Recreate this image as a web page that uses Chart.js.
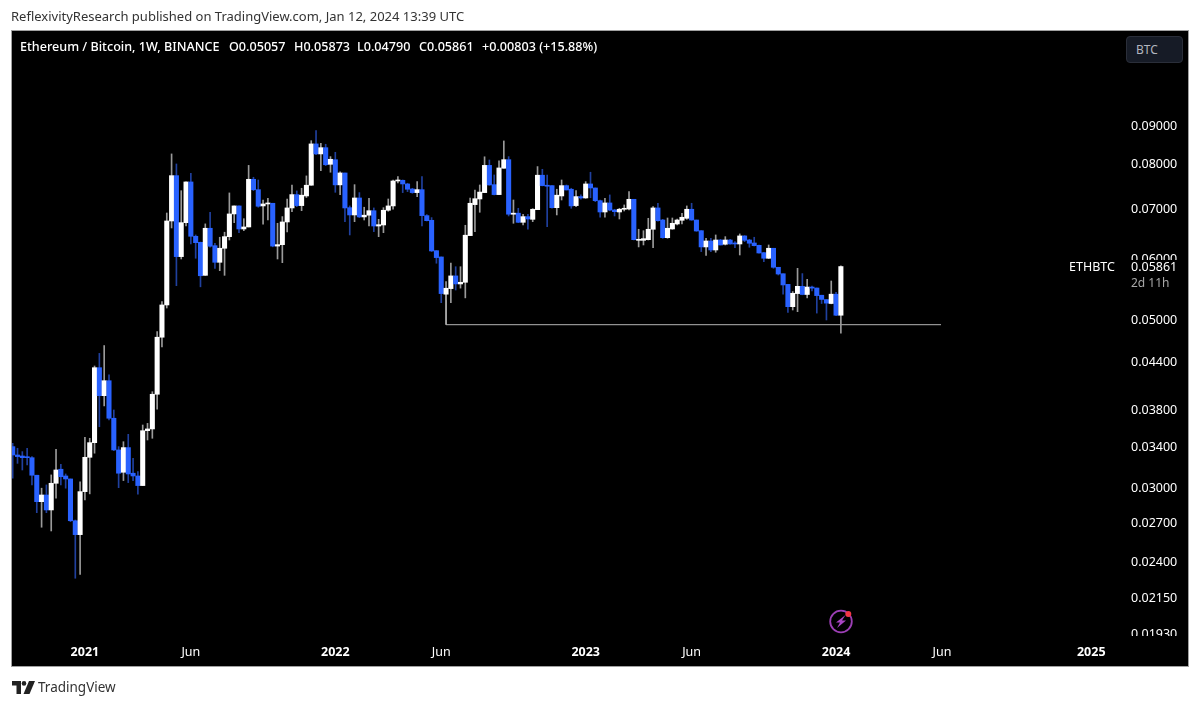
<!DOCTYPE html>
<html>
<head>
<meta charset="utf-8">
<script src="https://cdn.jsdelivr.net/npm/chart.js@4"></script>
<style>
    html, body { margin: 0; padding: 0; background: #fff; }
    body { width: 1200px; height: 706px; position: relative; overflow: hidden; font-family: "Noto Sans", sans-serif; }
    canvas { position: absolute; left: 0; top: 0; }
    .txt { position: absolute; white-space: pre; line-height: 16px; }
    #published { left: 11px; top: 8px; font-size: 13px; color: #333; }
    .lg { top: 39px; font-size: 12.6px; font-weight: 500; color: #fff; }
    #btc { left: 1126px; top: 36px; width: 57px; height: 27px; box-sizing: border-box; padding: 5px 0 0 9px;
        background: #161b26; border: 1px solid #2a2e39; border-radius: 4px; font-size: 12px; color: #b2b5be; }
    /* hides the tick labels sitting under the last price label */
    #mask { position: absolute; left: 1060px; top: 260px; width: 127px; height: 32px; background: #000; }
    #sym { left: 1069px; top: 259px; font-size: 12.5px; color: #fff; }
    #last { left: 1131px; top: 259px; font-size: 12.5px; color: #fff; }
    #left { left: 1131px; top: 275px; font-size: 12px; color: #a8a8a8; }
    #tick-cut { position: absolute; left: 1125px; top: 636px; width: 62px; height: 8px; background: #000; }
    #brand { left: 38px; top: 679px; font-size: 13.5px; line-height: 16px; color: #333; }
    svg { position: absolute; }
</style>
</head>
<body>
<canvas id="chart" width="1200" height="706"></canvas>
<div class="txt" id="published">ReflexivityResearch published on TradingView.com, Jan 12, 2024 13:39 UTC</div>
<div class="txt lg" style="left:20px">Ethereum / Bitcoin, 1W, BINANCE</div>
<div class="txt lg" style="left:229px">O0.05057</div>
<div class="txt lg" style="left:294px">H0.05873</div>
<div class="txt lg" style="left:357px">L0.04790</div>
<div class="txt lg" style="left:419px">C0.05861</div>
<div class="txt lg" style="left:482px">+0.00803 (+15.88%)</div>
<div class="txt" id="btc">BTC</div>
<div id="mask"></div>
<div id="tick-cut"></div>
<div class="txt" id="sym">ETHBTC</div>
<div class="txt" id="last">0.05861</div>
<div class="txt" id="left">2d 11h</div>
<svg style="left:828px;top:609px" width="26" height="26" viewBox="0 0 26 26">
    <circle cx="13" cy="12.5" r="10.8" fill="none" stroke="#9c3fb5" stroke-width="1.8"/>
    <path d="M17.5 6 L8 13.5 L12 13.5 L9 19 L18 11.5 L14 11.5 Z" fill="#a945c4"/>
    <circle cx="20.3" cy="5" r="3" fill="#f23645"/>
</svg>
<svg style="left:12px;top:681px" width="23" height="13" viewBox="0 0 23 13">
    <path d="M0 0 H9 V13 H4.5 V4.5 H0 Z" fill="#222"/>
    <circle cx="12" cy="2.4" r="2.3" fill="#222"/>
    <path d="M17 0 H23 L17.5 13 H11.5 Z" fill="#222"/>
</svg>
<div class="txt" id="brand">TradingView</div>

<script>
// Weekly ETHBTC candles (first one is late Sep 2020)
const opens = [
    0.03396, 0.03311, 0.03301, 0.03291, 0.03284, 0.03114, 0.02874, 0.02933, 0.02803, 0.03039,
    0.03171, 0.03107, 0.03079, 0.02713, 0.02601, 0.02963, 0.03288, 0.03437, 0.04314, 0.03963,
    0.04147, 0.03701, 0.03362, 0.03142, 0.03386, 0.03133, 0.03107, 0.03018, 0.03564, 0.03583,
    0.03980, 0.04731, 0.05217, 0.06729, 0.07720, 0.06040, 0.06695, 0.07574, 0.06424, 0.06307,
    0.05707, 0.06582, 0.06244, 0.05937, 0.06195, 0.06417, 0.06874, 0.07043, 0.06568, 0.06608,
    0.07635, 0.07399, 0.07043, 0.07085, 0.07100, 0.06236, 0.06263, 0.06709, 0.07000, 0.07289,
    0.07050, 0.07259, 0.07499, 0.08499, 0.08245, 0.08403, 0.07990, 0.08102, 0.07507, 0.07783,
    0.07006, 0.06853, 0.07215, 0.06812, 0.06848, 0.06942, 0.06627, 0.06648, 0.06951, 0.07043,
    0.07596, 0.07612, 0.07528, 0.07414, 0.07333, 0.07399, 0.06839, 0.06743, 0.06150, 0.06034,
    0.05390, 0.05482, 0.05697, 0.05560, 0.05588, 0.06437, 0.07071, 0.07193, 0.07333, 0.07964,
    0.07512, 0.07289, 0.07895, 0.08103, 0.06868, 0.06890, 0.06702, 0.06818, 0.06763, 0.06964,
    0.07730, 0.07499, 0.07490, 0.07006, 0.07259, 0.07490, 0.07408, 0.07050, 0.07245, 0.07215,
    0.07528, 0.07437, 0.07156, 0.06915, 0.07107, 0.06957, 0.06915, 0.06972, 0.06978, 0.07186,
    0.06346, 0.06346, 0.06358, 0.06562, 0.07000, 0.06749, 0.06397, 0.06568, 0.06668, 0.06743,
    0.06784, 0.06972, 0.06749, 0.06534, 0.06220, 0.06333, 0.06163, 0.06352, 0.06271, 0.06352,
    0.06290, 0.06276, 0.06431, 0.06352, 0.06295, 0.06250, 0.06113, 0.06010, 0.06195, 0.05848,
    0.05735, 0.05553, 0.05190, 0.05400, 0.05520, 0.05385, 0.05508, 0.05492, 0.05373, 0.05303,
    0.05240, 0.05390, 0.05057
];
const highs = [
    0.03431, 0.03379, 0.03345, 0.03379, 0.03294, 0.03114, 0.02994, 0.03024, 0.03117, 0.03369,
    0.03219, 0.03126, 0.03079, 0.02719, 0.03052, 0.03494, 0.03483, 0.04336, 0.04505, 0.04613,
    0.04220, 0.03795, 0.03396, 0.03447, 0.03525, 0.03278, 0.03148, 0.03626, 0.03644, 0.04011,
    0.04814, 0.05270, 0.06894, 0.08245, 0.07998, 0.07376, 0.07574, 0.07776, 0.06450, 0.06313,
    0.06670, 0.06909, 0.06290, 0.06405, 0.06504, 0.07326, 0.07043, 0.07043, 0.06776, 0.07964,
    0.07682, 0.07619, 0.07171, 0.07208, 0.07100, 0.06682, 0.06819, 0.07193, 0.07505, 0.07370,
    0.07430, 0.07714, 0.08583, 0.08848, 0.08516, 0.08490, 0.08178, 0.08286, 0.07807, 0.07783,
    0.07043, 0.07512, 0.07333, 0.07015, 0.07208, 0.07000, 0.06763, 0.07006, 0.07193, 0.07619,
    0.07698, 0.07619, 0.07544, 0.07430, 0.07581, 0.07698, 0.06860, 0.06798, 0.06150, 0.06034,
    0.05600, 0.05925, 0.05858, 0.05858, 0.06642, 0.07215, 0.07392, 0.07505, 0.08174, 0.08095,
    0.07736, 0.08077, 0.08576, 0.08178, 0.07171, 0.06993, 0.06868, 0.06868, 0.06985, 0.07935,
    0.07870, 0.07736, 0.07490, 0.07408, 0.07619, 0.07505, 0.07430, 0.07376, 0.07282, 0.07581,
    0.07800, 0.07437, 0.07171, 0.07208, 0.07282, 0.06972, 0.06993, 0.07064, 0.07355, 0.07186,
    0.06562, 0.06534, 0.06784, 0.07028, 0.07100, 0.06763, 0.06790, 0.06790, 0.06770, 0.06889,
    0.07043, 0.07100, 0.06749, 0.06534, 0.06385, 0.06385, 0.06450, 0.06365, 0.06417, 0.06365,
    0.06320, 0.06470, 0.06437, 0.06365, 0.06405, 0.06257, 0.06120, 0.06257, 0.06195, 0.05848,
    0.05735, 0.05553, 0.05433, 0.05830, 0.05737, 0.05638, 0.05525, 0.05492, 0.05373, 0.05303,
    0.05610, 0.05420, 0.05873
];
const lows = [
    0.03086, 0.03228, 0.03164, 0.03212, 0.03024, 0.02780, 0.02660, 0.02780, 0.02630, 0.02904,
    0.03024, 0.02994, 0.02705, 0.02279, 0.02306, 0.02889, 0.02943, 0.03329, 0.03607, 0.03842,
    0.03682, 0.03355, 0.02999, 0.03064, 0.03045, 0.03064, 0.02940, 0.03018, 0.03465, 0.03483,
    0.03803, 0.04594, 0.05169, 0.06588, 0.05531, 0.05997, 0.06627, 0.06276, 0.06010, 0.05512,
    0.05707, 0.06214, 0.05830, 0.05788, 0.05707, 0.06352, 0.06695, 0.06495, 0.06534, 0.06608,
    0.07376, 0.07015, 0.06662, 0.06749, 0.06222, 0.05997, 0.05930, 0.06509, 0.06921, 0.07028,
    0.06942, 0.07225, 0.07499, 0.08229, 0.07837, 0.07957, 0.07800, 0.07340, 0.07286, 0.06715,
    0.06450, 0.06715, 0.06798, 0.06749, 0.06627, 0.06515, 0.06417, 0.06495, 0.06930, 0.06972,
    0.07551, 0.07333, 0.07355, 0.07319, 0.07245, 0.06627, 0.06729, 0.06133, 0.05920, 0.05253,
    0.05296, 0.05253, 0.05459, 0.05490, 0.05330, 0.06437, 0.06515, 0.06909, 0.07333, 0.07499,
    0.07282, 0.07289, 0.07895, 0.06832, 0.06682, 0.06695, 0.06648, 0.06562, 0.06715, 0.06964,
    0.07483, 0.06615, 0.06993, 0.06853, 0.07171, 0.07392, 0.06993, 0.07028, 0.07186, 0.07208,
    0.07222, 0.07134, 0.06805, 0.06805, 0.06940, 0.06832, 0.06770, 0.06936, 0.06957, 0.06352,
    0.06220, 0.06257, 0.06352, 0.06207, 0.06723, 0.06385, 0.06385, 0.06562, 0.06648, 0.06668,
    0.06763, 0.06743, 0.06522, 0.06133, 0.06060, 0.06133, 0.06120, 0.06257, 0.06257, 0.06271,
    0.06208, 0.06070, 0.06320, 0.06214, 0.06238, 0.06102, 0.05949, 0.06004, 0.05830, 0.05713,
    0.05390, 0.05100, 0.05138, 0.05112, 0.05380, 0.05330, 0.05444, 0.05090, 0.05240, 0.04985,
    0.05235, 0.05050, 0.04790
];
const closes = [
    0.03311, 0.03295, 0.03284, 0.03284, 0.03114, 0.02874, 0.02933, 0.02803, 0.03039, 0.03164,
    0.03100, 0.03079, 0.02713, 0.02601, 0.02963, 0.03288, 0.03437, 0.04314, 0.03963, 0.04147,
    0.03701, 0.03362, 0.03133, 0.03386, 0.03126, 0.03107, 0.03018, 0.03564, 0.03583, 0.03980,
    0.04731, 0.05217, 0.06729, 0.07720, 0.06040, 0.06695, 0.07574, 0.06424, 0.06301, 0.05700,
    0.06582, 0.06233, 0.05937, 0.06195, 0.06417, 0.06874, 0.07043, 0.06568, 0.06608, 0.07635,
    0.07399, 0.07036, 0.07085, 0.07100, 0.06236, 0.06263, 0.06709, 0.07000, 0.07289, 0.07050,
    0.07276, 0.07499, 0.08499, 0.08245, 0.08403, 0.07980, 0.08112, 0.07507, 0.07783, 0.07000,
    0.06853, 0.07215, 0.06812, 0.06848, 0.06942, 0.06627, 0.06654, 0.06951, 0.07043, 0.07596,
    0.07612, 0.07528, 0.07408, 0.07333, 0.07399, 0.06839, 0.06735, 0.06145, 0.06022, 0.05400,
    0.05488, 0.05697, 0.05560, 0.05588, 0.06445, 0.07100, 0.07199, 0.07345, 0.07964, 0.07505,
    0.07289, 0.07902, 0.08103, 0.06868, 0.06890, 0.06702, 0.06818, 0.06770, 0.06972, 0.07730,
    0.07490, 0.07476, 0.07006, 0.07276, 0.07490, 0.07392, 0.07043, 0.07245, 0.07215, 0.07528,
    0.07437, 0.07156, 0.06915, 0.07107, 0.06955, 0.06921, 0.06972, 0.06993, 0.07186, 0.06358,
    0.06366, 0.06378, 0.06562, 0.07000, 0.06735, 0.06397, 0.06582, 0.06682, 0.06749, 0.06805,
    0.06972, 0.06749, 0.06528, 0.06220, 0.06333, 0.06163, 0.06352, 0.06257, 0.06352, 0.06276,
    0.06276, 0.06431, 0.06346, 0.06290, 0.06244, 0.06107, 0.06010, 0.06195, 0.05848, 0.05730,
    0.05543, 0.05190, 0.05405, 0.05520, 0.05385, 0.05508, 0.05490, 0.05367, 0.05305, 0.05246,
    0.05390, 0.05057, 0.05861
];

// axis labels
const yTicks = [0.09, 0.08, 0.07, 0.06, 0.05, 0.044, 0.038, 0.034, 0.03, 0.027, 0.024, 0.0215, 0.0193];
const xTickWeeks = [15, 37, 67, 89, 119, 141, 171, 193, 224];
const xTickLabels = ["2021", "Jun", "2022", "Jun", "2023", "Jun", "2024", "Jun", "2025"];

// the drawn support line: from the Jun 2022 low across to Jun 2024
const supportLevel = 0.04914;
const supportFromWeek = 90;
const supportToWeek = 192.8;
const supportTop = 0.0539;

const UP = "#ffffff";
const DOWN = "#2962ff";
const UP_WICK = "#9a9a9a";
const DOWN_WICK = "#20409e";

const isUp = opens.map((o, i) => closes[i] >= o);

const panelPlugin = {
    id: "panel",
    beforeDraw(chart) {
        const c = chart.ctx;
        c.save();
        c.fillStyle = "#000";
        c.fillRect(12, 31, 1176, 635);
        c.strokeStyle = "#a0a0a0";
        c.lineWidth = 1;
        c.strokeRect(11.5, 30.5, 1177, 636);
        c.restore();
    }
};

const ctx = document.getElementById("chart").getContext("2d");
const ethChart = new Chart(ctx, {
    type: "bar",
    data: {
        datasets: [
            {
                label: "support",
                type: "line",
                data: [
                    { x: supportFromWeek, y: supportTop },
                    { x: supportFromWeek, y: supportLevel },
                    { x: supportToWeek, y: supportLevel }
                ],
                borderColor: "#b4b4b4",
                borderWidth: 1,
                pointRadius: 0,
                tension: 0,
                order: 3
            },
            {
                label: "wick",
                data: lows.map((l, i) => ({ x: i, y: [l, highs[i]] })),
                backgroundColor: isUp.map(u => u ? UP_WICK : DOWN_WICK),
                barThickness: 1,
                grouped: false,
                order: 2
            },
            {
                label: "body",
                data: opens.map((o, i) => ({ x: i, y: [Math.min(o, closes[i]), Math.max(o, closes[i])] })),
                backgroundColor: isUp.map(u => u ? UP : DOWN),
                barThickness: 4.4,
                minBarLength: 1,
                grouped: false,
                order: 1
            }
        ]
    },
    options: {
        responsive: false,
        animation: false,
        layout: { padding: { left: 12, top: 31, right: 12, bottom: 40 } },
        plugins: { legend: { display: false }, tooltip: { enabled: false } },
        scales: {
            x: {
                type: "linear",
                offset: false,
                min: -0.145,
                max: 230.8,
                grid: { display: false, offset: false, drawTicks: false },
                border: { display: false },
                afterBuildTicks(axis) { axis.ticks = xTickWeeks.map(w => ({ value: w })); },
                afterFit(axis) { axis.height = 26; },
                ticks: {
                    autoSkip: false,
                    maxRotation: 0,
                    padding: 5,
                    color: "#fff",
                    font: c => {
                        const isJun = c.tick && xTickLabels[xTickWeeks.indexOf(c.tick.value)] === "Jun";
                        return { family: "Noto Sans", size: 12.5, weight: isJun ? "normal" : "bold" };
                    },
                    callback: v => xTickLabels[xTickWeeks.indexOf(v)]
                }
            },
            y: {
                type: "logarithmic",
                position: "right",
                min: 0.0189,
                max: 0.11967,
                grid: { display: false, drawTicks: false },
                border: { display: false },
                afterBuildTicks(axis) { axis.ticks = yTicks.map(v => ({ value: v })); },
                afterFit(axis) { axis.width = 64; },
                ticks: {
                    autoSkip: false,
                    padding: 7,
                    labelOffset: 1,
                    color: "#fff",
                    font: { family: "Noto Sans", size: 12.5 },
                    callback: v => v.toFixed(5)
                }
            }
        }
    },
    plugins: [panelPlugin]
});
</script>
</body>
</html>
